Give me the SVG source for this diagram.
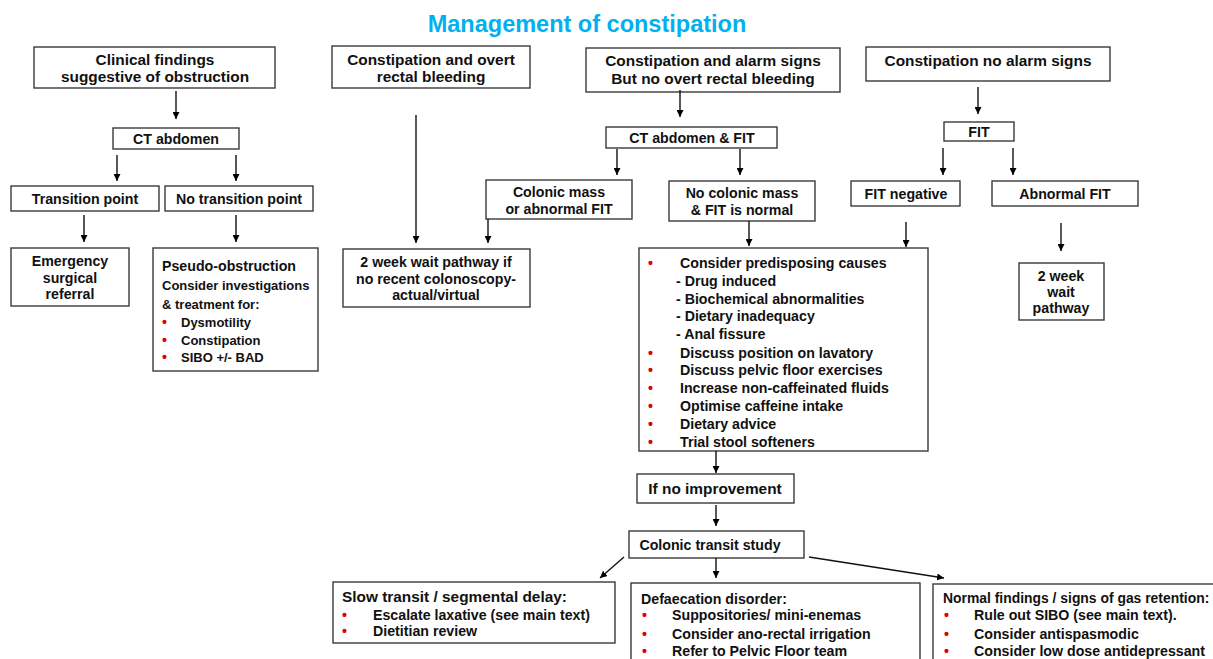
<svg xmlns="http://www.w3.org/2000/svg" width="1213" height="659" viewBox="0 0 1213 659">
<defs>
<marker id="ah" viewBox="0 0 10 10" refX="10" refY="5" markerWidth="7" markerHeight="7" markerUnits="userSpaceOnUse" orient="auto"><path d="M0,0 L10,5 L0,10 z" fill="#000"/></marker>
<style>
.b{fill:#fff;stroke:#3a3a3a;stroke-width:1.4}
text{font-family:"Liberation Sans",Arial,sans-serif;font-weight:bold;font-size:14.2px;fill:#111}
.c{text-anchor:middle}
.r{fill:#e00000}
.L{font-size:15.4px}
.s{font-size:13px}
.n{font-size:13.9px}
.t{font-size:23.5px;fill:#00b0f0}
.cn line{stroke:#111;stroke-width:1.4;marker-end:url(#ah)}
</style>
</defs>
<rect width="1213" height="659" fill="#fff"/>
<text class="t c" x="587" y="32">Management of constipation</text>

<g id="n-clinical"><rect class="b" x="34" y="47" width="241" height="41"/><text class="c L" x="155" y="65">Clinical findings</text><text class="c L" x="155" y="82">suggestive of obstruction</text></g>
<g id="n-ct1"><rect class="b" x="113" y="128" width="126" height="21"/><text class="c" x="176" y="144">CT abdomen</text></g>
<g id="n-trans"><rect class="b" x="11" y="186" width="148" height="25"/><text class="c" x="85" y="204">Transition point</text></g>
<g id="n-notrans"><rect class="b" x="165" y="186" width="148" height="25"/><text class="c" x="239" y="204">No transition point</text></g>
<g id="n-emerg"><rect class="b" x="11" y="248" width="118" height="58"/><text class="c" x="70" y="266">Emergency</text><text class="c" x="70" y="283">surgical</text><text class="c" x="70" y="299">referral</text></g>
<g id="n-pseudo"><rect class="b" x="153" y="248" width="165" height="123"/>
<text x="162" y="271">Pseudo-obstruction</text><text class="s" x="162" y="290">Consider investigations</text><text class="s" x="162" y="309">&amp; treatment for:</text>
<text class="r" x="162" y="327">•</text><text class="s" x="181" y="327">Dysmotility</text>
<text class="r" x="162" y="345">•</text><text class="s" x="181" y="345">Constipation</text>
<text class="r" x="162" y="362">•</text><text class="s" x="181" y="362">SIBO +/- BAD</text></g>

<g id="n-bleed"><rect class="b" x="332" y="46" width="198" height="42"/><text class="c L" x="431" y="65">Constipation and overt</text><text class="c L" x="431" y="82">rectal bleeding</text></g>
<g id="n-2ww1"><rect class="b" x="343" y="249" width="187" height="58"/><text class="c" x="436" y="267">2 week wait pathway if</text><text class="c" x="436" y="284">no recent colonoscopy-</text><text class="c" x="436" y="300">actual/virtual</text></g>

<g id="n-alarm"><rect class="b" x="586" y="48" width="254" height="44"/><text class="c L" x="713" y="66">Constipation and alarm signs</text><text class="c L" x="713" y="84">But no overt rectal bleeding</text></g>
<g id="n-ct2"><rect class="b" x="606" y="127" width="171" height="21"/><text class="c" x="692" y="143">CT abdomen &amp; FIT</text></g>
<g id="n-mass"><rect class="b" x="486" y="180" width="146" height="39"/><text class="c" x="559" y="197">Colonic mass</text><text class="c" x="559" y="214">or abnormal FIT</text></g>
<g id="n-nomass"><rect class="b" x="669" y="181" width="146" height="40"/><text class="c" x="742" y="198">No colonic mass</text><text class="c" x="742" y="215">&amp; FIT is normal</text></g>

<g id="n-noalarm"><rect class="b" x="866" y="47" width="244" height="34"/><text class="c L" x="988" y="66">Constipation no alarm signs</text></g>
<g id="n-fit"><rect class="b" x="944" y="122" width="70" height="19"/><text class="c" x="979" y="137">FIT</text></g>
<g id="n-fitneg"><rect class="b" x="851" y="181" width="109" height="25"/><text class="c" x="906" y="199">FIT negative</text></g>
<g id="n-abfit"><rect class="b" x="992" y="181" width="146" height="25"/><text class="c" x="1065" y="199">Abnormal FIT</text></g>
<g id="n-2ww2"><rect class="b" x="1019" y="263" width="85" height="57"/><text class="c" x="1061" y="281">2 week</text><text class="c" x="1061" y="297">wait</text><text class="c" x="1061" y="313">pathway</text></g>

<g id="n-consider"><rect class="b" x="639" y="248" width="289" height="203"/>
<text class="r" x="648" y="268">•</text><text x="680" y="268">Consider predisposing causes</text>
<text x="676" y="286">- Drug induced</text>
<text x="676" y="304">- Biochemical abnormalities</text>
<text x="676" y="321">- Dietary inadequacy</text>
<text x="676" y="339">- Anal fissure</text>
<text class="r" x="648" y="358">•</text><text x="680" y="358">Discuss position on lavatory</text>
<text class="r" x="648" y="375">•</text><text x="680" y="375">Discuss pelvic floor exercises</text>
<text class="r" x="648" y="393">•</text><text x="680" y="393">Increase non-caffeinated fluids</text>
<text class="r" x="648" y="411">•</text><text x="680" y="411">Optimise caffeine intake</text>
<text class="r" x="648" y="429">•</text><text x="680" y="429">Dietary advice</text>
<text class="r" x="648" y="447">•</text><text x="680" y="447">Trial stool softeners</text></g>
<g id="n-noimp"><rect class="b" x="637" y="474" width="157" height="29"/><text class="c L" x="715" y="494">If no improvement</text></g>
<g id="n-cts"><rect class="b" x="629" y="531" width="175" height="27"/><text class="c" x="710" y="550">Colonic transit study</text></g>

<g id="n-slow"><rect class="b" x="333" y="582" width="282" height="61"/>
<text class="L" x="342" y="602">Slow transit / segmental delay:</text>
<text class="r" x="342" y="620">•</text><text x="373" y="620">Escalate laxative (see main text)</text>
<text class="r" x="342" y="636">•</text><text x="373" y="636">Dietitian review</text></g>
<g id="n-defaec"><rect class="b" x="631" y="583" width="289" height="90"/>
<text x="641" y="604">Defaecation disorder:</text>
<text class="r" x="642" y="620">•</text><text x="672" y="620">Suppositories/ mini-enemas</text>
<text class="r" x="642" y="639">•</text><text x="672" y="639">Consider ano-rectal irrigation</text>
<text class="r" x="642" y="656">•</text><text x="672" y="656">Refer to Pelvic Floor team</text></g>
<g id="n-normal"><rect class="b" x="933" y="584" width="290" height="90"/>
<text class="n" x="943" y="603">Normal findings / signs of gas retention:</text>
<text class="r" x="944" y="620">•</text><text x="974" y="620">Rule out SIBO (see main text).</text>
<text class="r" x="944" y="639">•</text><text x="974" y="639">Consider antispasmodic</text>
<text class="r" x="944" y="656">•</text><text x="974" y="656">Consider low dose antidepressant</text></g>

<g id="connectors" class="cn">
<line x1="176" y1="91" x2="176" y2="119"/>
<line x1="117" y1="155" x2="117" y2="181"/>
<line x1="236" y1="155" x2="236" y2="181"/>
<line x1="84" y1="215" x2="84" y2="242"/>
<line x1="236" y1="215" x2="236" y2="242"/>
<line x1="416" y1="115" x2="416" y2="243"/>
<line x1="488" y1="219" x2="488" y2="243"/>
<line x1="680" y1="90" x2="680" y2="117"/>
<line x1="617" y1="149" x2="617" y2="175"/>
<line x1="740" y1="149" x2="740" y2="175"/>
<line x1="749" y1="221" x2="749" y2="246"/>
<line x1="906" y1="222" x2="906" y2="247"/>
<line x1="978" y1="87" x2="978" y2="114"/>
<line x1="943" y1="148" x2="943" y2="175"/>
<line x1="1013" y1="148" x2="1013" y2="175"/>
<line x1="1061" y1="223" x2="1061" y2="251"/>
<line x1="716" y1="451" x2="716" y2="473"/>
<line x1="716" y1="505" x2="716" y2="526"/>
<line x1="716" y1="558" x2="716" y2="578"/>
<line x1="624" y1="557" x2="600" y2="578"/>
<line x1="809" y1="557" x2="944" y2="578"/>
</g>
</svg>
